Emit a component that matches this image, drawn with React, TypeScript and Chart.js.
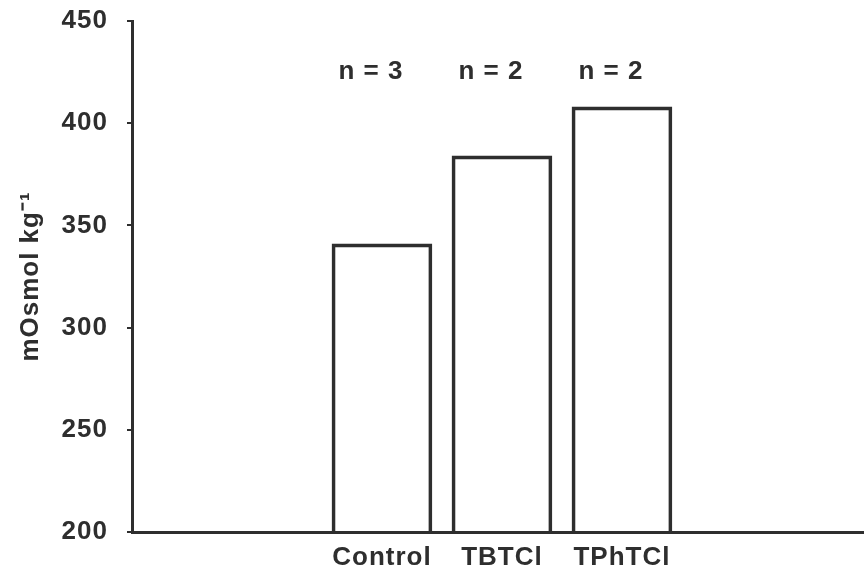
import React, { useEffect, useRef } from "react";
import { Chart, registerables } from "chart.js";

Chart.register(...registerables);

const categories = ["Control", "TBTCl", "TPhTCl"];
const osmolality = [341, 384, 408];
const nLabels = ["n = 3", "n = 2", "n = 2"];
const yTicks = [200, 250, 300, 350, 400, 450];
const nLabelLevel = 425;

const INK = "#2e2e2e";
const FONT = "'Liberation Sans', Arial, sans-serif";

const nLabelPlugin = {
  id: "nLabels",
  beforeUpdate(chart: any) {
    chart.ctx.letterSpacing = "1px";
  },
  beforeDraw(chart: any) {
    chart.ctx.letterSpacing = "1px";
  },
  afterDatasetsDraw(chart: any) {
    const { ctx, scales } = chart;
    ctx.save();
    ctx.letterSpacing = "1px";
    ctx.fillStyle = INK;
    ctx.font = `bold 26px ${FONT}`;
    ctx.textAlign = "center";
    ctx.textBaseline = "middle";
    nLabels.forEach((t, i) => {
      const x = scales.x.getPixelForValue(i + 1) - 11;
      const y = scales.y.getPixelForValue(nLabelLevel);
      ctx.fillText(t, x, y);
    });
    ctx.restore();
  },
};

export default function App() {
  const ref = useRef<HTMLCanvasElement | null>(null);

  useEffect(() => {
    document.body.style.margin = "0";
    const canvas = ref.current;
    if (!canvas) return;
    const chart = new Chart(canvas, {
      type: "bar",
      data: {
        datasets: [
          {
            data: osmolality.map((v, i) => ({ x: i + 1, y: v })),
            backgroundColor: "rgba(255,255,255,0)",
            borderColor: INK,
            borderWidth: 3,
            barThickness: 100,
            borderSkipped: "bottom",
          },
        ],
      },
      options: {
        responsive: false,
        animation: false,
        layout: { padding: { top: 21, right: 0, bottom: 0, left: 0 } },
        plugins: {
          legend: { display: false },
          tooltip: { enabled: false },
          title: { display: false },
        },
        scales: {
          x: {
            type: "linear",
            offset: false,
            min: -1.083,
            max: 5.017,
            afterBuildTicks: (scale: any) => {
              scale.ticks = categories.map((_, i) => ({ value: i + 1 }));
            },
            afterFit: (scale: any) => {
              scale.height = 48;
              scale.paddingLeft = 0;
              scale.paddingRight = 0;
            },
            grid: { display: true, drawOnChartArea: false, drawTicks: false, offset: false },
            border: { display: true, color: INK, width: 3 },
            ticks: {
              autoSkip: false,
              maxRotation: 0,
              padding: 10,
              color: INK,
              font: { family: FONT, size: 26, weight: "bold" },
              callback: (v: any) => categories[Math.round(v) - 1] ?? "",
            },
          },
          y: {
            min: 200,
            max: 450,
            afterBuildTicks: (scale: any) => {
              scale.ticks = yTicks.map((v) => ({ value: v }));
            },
            afterFit: (scale: any) => {
              scale.width = 132;
              scale.paddingTop = 0;
              scale.paddingBottom = 0;
            },
            grid: {
              display: true,
              drawOnChartArea: false,
              drawTicks: true,
              tickLength: 5,
              color: INK,
              lineWidth: 2,
            },
            border: { display: true, color: INK, width: 3 },
            ticks: {
              padding: 19,
              color: INK,
              font: { family: FONT, size: 26, weight: "bold" },
            },
            title: {
              display: true,
              text: "mOsmol kg⁻¹",
              color: INK,
              padding: { top: 15, bottom: 0 },
              font: { family: FONT, size: 26, weight: "bold" },
            },
          },
        },
      },
      plugins: [nLabelPlugin],
    } as any);
    return () => chart.destroy();
  }, []);

  return (
    <div style={{ width: 864, height: 580, background: "#fff" }}>
      <canvas ref={ref} width={864} height={580} />
    </div>
  );
}
